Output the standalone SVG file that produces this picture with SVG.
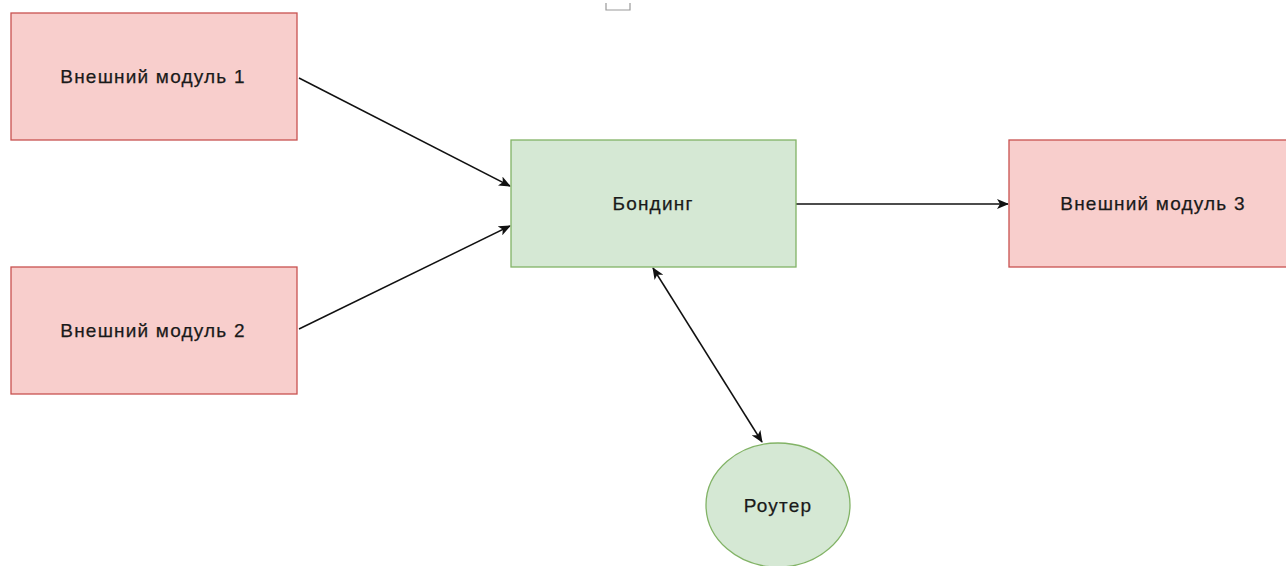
<svg xmlns="http://www.w3.org/2000/svg" width="1286" height="566" viewBox="0 0 1286 566">
<defs>
<style>
.red{fill:#f8cecc;stroke:#c85250;stroke-width:1.3}
.green{fill:#d5e8d4;stroke:#82b366;stroke-width:1.3}
.lbl{font-family:"Liberation Sans",Arial,sans-serif;font-size:19px;letter-spacing:1.2px;fill:#1a1a1a;stroke:#1a1a1a;stroke-width:0.25;text-anchor:middle;dominant-baseline:central}
.edge{stroke:#111;stroke-width:1.5;fill:none}
</style>
<marker id="ah" viewBox="0 0 12 10" refX="11" refY="5" markerWidth="12" markerHeight="10" markerUnits="userSpaceOnUse" orient="auto-start-reverse">
<path d="M0,0 L12,5 L0,10 L3,5 Z" fill="#111"/>
</marker>
</defs>
<rect width="1286" height="566" fill="#fff"/>
<path d="M606,3 V10 H630 V3" fill="none" stroke="#999" stroke-width="1.2"/>
<g id="connectors">
<line class="edge" x1="299" y1="78" x2="510" y2="186" marker-end="url(#ah)"/>
<line class="edge" x1="299" y1="329" x2="510" y2="226" marker-end="url(#ah)"/>
<line class="edge" x1="796" y1="204" x2="1008" y2="204" marker-end="url(#ah)"/>
<line class="edge" x1="653" y1="268" x2="762" y2="442" marker-start="url(#ah)" marker-end="url(#ah)"/>
</g>
<g id="ext1"><rect class="red" x="11" y="13" width="286" height="127"/><text class="lbl" x="153" y="76">Внешний модуль 1</text></g>
<g id="ext2"><rect class="red" x="11" y="267" width="286" height="127"/><text class="lbl" x="153" y="330">Внешний модуль 2</text></g>
<g id="bonding"><rect class="green" x="511" y="140" width="285" height="127"/><text class="lbl" x="653" y="203">Бондинг</text></g>
<g id="ext3"><rect class="red" x="1009" y="140" width="290" height="127"/><text class="lbl" x="1153" y="203">Внешний модуль 3</text></g>
<g id="router"><ellipse class="green" cx="778" cy="505" rx="72" ry="62"/><text class="lbl" x="778" y="505">Роутер</text></g>
</svg>
